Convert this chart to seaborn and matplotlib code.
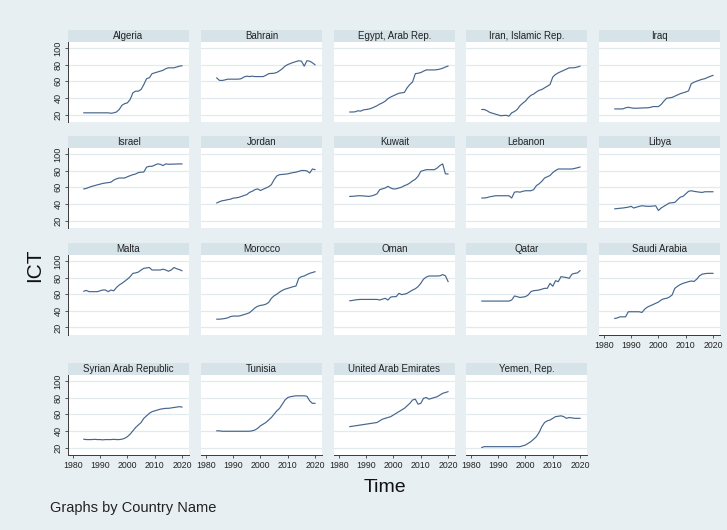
import numpy as np
import pandas as pd
import matplotlib
matplotlib.use("Agg")
import matplotlib.pyplot as plt
import seaborn as sns

# ---- data -----------------------------------------------------------------
years = list(range(1984, 2021))

countries = [
    "Algeria", "Bahrain", "Egypt, Arab Rep.", "Iran, Islamic Rep.", "Iraq",
    "Israel", "Jordan", "Kuwait", "Lebanon", "Libya",
    "Malta", "Morocco", "Oman", "Qatar", "Saudi Arabia",
    "Syrian Arab Republic", "Tunisia", "United Arab Emirates", "Yemen, Rep.",
]

algeria = [22, 22, 22, 22, 22, 22, 22, 22, 22, 22, 21.5, 22, 23, 26, 31, 33, 34, 38,
           46, 48, 48, 50, 56, 63, 64, 69, 70, 71, 72, 73, 75, 76, 76, 76, 77, 78, 78.5]
bahrain = [64, 61, 60.8, 61.5, 62.4, 62.4, 62.4, 62.4, 62.4, 63, 65, 66, 65.5, 66, 65.5,
           65.5, 65.5, 65.5, 67, 69, 69.3, 69.5, 70.5, 72.5, 75, 78, 80, 81.2, 82.5, 83.5,
           84.5, 84, 78, 84.5, 84, 82, 79.5]
egypt = [23, 23, 23.2, 24.5, 24, 25.5, 26, 26.5, 27.5, 29, 30.5, 32.5, 34, 36, 39, 41,
         42.5, 44, 45.5, 46, 46.5, 52, 56, 59, 69, 69.5, 70.3, 72, 73.5, 73.5, 73.5, 73.5,
         73.8, 74.5, 75.5, 77, 78.2]
iran = [26, 26, 24.5, 22.5, 21.5, 20.5, 19.5, 18.5, 18.8, 19, 18, 22, 23.6, 26, 30.5,
        33.5, 36, 40, 43, 44.5, 47, 49, 50, 52, 54, 56, 65, 68, 70, 71.5, 73, 74.5, 76,
        76, 76.2, 77, 78]
iraq = [26.7, 26.7, 26.7, 26.7, 28, 28.7, 28, 27.5, 27.5, 27.7, 27.8, 28, 28, 28.5, 29.5,
        29.5, 29.5, 32, 36, 39.5, 40, 40.5, 42, 43.5, 45, 46, 47, 48.3, 57, 58.7, 60, 61.2,
        62.3, 63, 64.5, 65.8, 67]
israel = [57.8, 58.5, 59.8, 61, 61.8, 62.8, 63.6, 64.5, 65, 65.5, 66, 68.5, 70, 71, 71, 71,
          72.5, 73.8, 75, 75.8, 77.5, 78, 78.2, 84, 85, 85, 86.5, 87.9, 87.5, 85.9, 87.9,
          87.5, 87.6, 87.7, 87.8, 87.9, 87.9]
jordan = [41, 42.5, 43.7, 44.2, 45, 45.5, 46.8, 47.2, 47.7, 48.8, 50, 51, 53.7, 55, 57, 58,
          56, 57.5, 59, 60.5, 63, 69, 73.5, 75, 75.3, 75.6, 76, 76.8, 77.5, 78, 79, 80, 80,
          79.5, 77, 81.8, 81]
kuwait = [48.9, 49, 49.3, 49.7, 49.7, 49.5, 49.2, 48.9, 49.5, 50.5, 52, 57, 58, 59, 61, 59,
          57.8, 58, 59, 60, 61.8, 63, 65, 67.5, 69.5, 73, 79, 80, 81, 81, 81, 81, 83, 86,
          87.9, 76, 75.8]
lebanon = [47, 47, 47.5, 48.5, 49, 49.7, 49.7, 49.7, 49.7, 49.7, 49.7, 47, 54, 54.5, 54, 55,
           55.7, 55.7, 55.7, 57, 61.8, 64, 67, 71, 72.5, 74, 77.5, 80, 81.8, 81.8, 81.8,
           81.8, 81.8, 81.8, 82.5, 83.3, 84.2]
libya = [34, 34.3, 34.7, 35, 35.5, 36, 37, 35, 36, 37, 37.7, 37.3, 37, 37, 37.3, 37.7, 32,
         35, 37, 39, 41, 41.3, 41.7, 45, 48, 49, 52, 55, 55.7, 55, 54.5, 54, 53.7, 54.5,
         54.5, 54.5, 54.5]
malta = [63.5, 64.5, 63, 63, 63, 63, 64, 65, 65, 63, 65, 64, 68, 71, 73, 75.5, 78, 81, 85,
         85.5, 86.5, 89, 91, 91.5, 92, 89, 89, 89, 89, 90, 89, 87.5, 89, 92, 90.5, 89.5, 88]
morocco = [30, 30, 30.3, 30.8, 31.5, 33, 33.7, 33.7, 33.7, 34.5, 35.5, 36.5, 37.7, 40.5,
           43.5, 45.5, 46.5, 47, 48, 50, 55, 58, 60, 62.5, 64.5, 66, 67, 68, 69, 69.8, 79,
           81, 81.8, 83.5, 85, 86, 87]
oman = [52, 52.5, 53, 53.5, 53.7, 53.7, 53.7, 53.7, 53.7, 53.7, 53.7, 53, 54, 55, 53, 56.5,
        57, 57, 61, 59.5, 60, 61, 63, 65, 66.5, 69, 73, 78, 80.5, 81.8, 81.8, 81.8, 81.8,
        82, 83.5, 82, 75]
qatar = [51.7, 51.7, 51.7, 51.7, 51.7, 51.7, 51.7, 51.7, 51.7, 51.7, 51.7, 53, 57.8, 57,
         56, 56.5, 57, 59, 63, 64.2, 64.5, 65, 66, 67, 67, 73, 69.5, 76.2, 75, 81, 80.5, 80,
         79, 84, 85, 85.5, 88.3]
saudi = [30.8, 31.5, 32.8, 32.8, 32.8, 38.9, 38.9, 38.9, 38.9, 38.9, 38, 42, 44.5, 46, 47.5,
         49, 50.5, 53, 54.5, 55, 56.5, 59, 67, 69.5, 71.5, 73, 74, 75, 75.8, 75.2, 78, 82,
         84, 84.6, 85, 85, 85]
syria = [30, 29.5, 29.5, 29.5, 29.8, 29.5, 29.5, 29.2, 29.5, 29.5, 29.5, 29.8, 29.5, 29.5,
         30, 31, 33, 36, 40, 44, 47, 50, 55, 58, 61, 63, 64, 65, 66, 66.5, 67, 67, 67.5, 68,
         68.5, 69, 68.5]
tunisia = [40, 40, 39.5, 39.5, 39.5, 39.5, 39.5, 39.5, 39.5, 39.5, 39.5, 39.5, 39.5, 40, 41,
           43, 46, 48, 50, 53, 56, 60, 64, 67, 72, 77, 80, 81, 81.5, 82, 82, 82, 82, 81.5,
           76, 73, 73]
uae = [45, 45.5, 46, 46.5, 47, 47.5, 48, 48.5, 49, 49.5, 50, 52, 54, 55, 56, 57, 59, 61,
       63, 65, 67, 70, 73, 77, 78, 72, 73, 79, 80, 78, 79, 80, 81, 83, 85, 86, 87]
yemen = [20, 21, 21, 21, 21, 21, 21, 21, 21, 21, 21, 21, 21, 21, 21, 22, 23, 25, 27, 30, 33,
         38, 45, 50, 52, 53, 55, 57, 57.5, 58, 57, 55, 56, 55.5, 55, 55, 55]

ict_values = [algeria, bahrain, egypt, iran, iraq, israel, jordan, kuwait, lebanon, libya,
              malta, morocco, oman, qatar, saudi, syria, tunisia, uae, yemen]

y_ticks = [20, 40, 60, 80, 100]
x_ticks = [1980, 1990, 2000, 2010, 2020]

df = pd.DataFrame({
    "Country Name": np.repeat(countries, len(years)),
    "year": years * len(countries),
    "ICT": np.concatenate([np.asarray(v, dtype=float) for v in ict_values]),
})

# ---- style ----------------------------------------------------------------
sns.set_theme(style="white")
plt.rcParams["font.family"] = ["Liberation Sans", "DejaVu Sans"]

BG = "#e8eff2"
STRIP = "#d6e3e9"
GRID = "#e2eaee"
LINE = "#46658c"
AXC = "#3a3a3a"

W, H = 727, 530
fig = plt.figure(figsize=(W / 100, H / 100), dpi=100, facecolor=BG)


def rect(x, y, w, h):
    return [x / W, 1 - (y + h) / H, w / W, h / H]


col_x = [68, 201, 334, 466, 599]
row_top = [42, 148, 255, 375]
PW, PH, SH = 121, 80, 12

for i, name in enumerate(countries):
    r, c = divmod(i, 5)
    x0, y0 = col_x[c], row_top[r]
    ax = fig.add_axes(rect(x0, y0, PW, PH))
    ax.set_facecolor("white")
    sub = df[df["Country Name"] == name]
    sns.lineplot(data=sub, x="year", y="ICT", ax=ax, color=LINE, lw=0.85)
    ax.set_xlim(1978.3, 2022.5)
    ax.set_ylim(11, 107)
    ax.set_yticks(y_ticks)
    ax.set_xticks(x_ticks)
    ax.set_xlabel("")
    ax.set_ylabel("")
    ax.grid(axis="y", color=GRID, lw=0.9)
    ax.grid(axis="x", visible=False)
    ax.set_axisbelow(True)
    for s in ax.spines.values():
        s.set_visible(False)

    show_y = c == 0
    show_x = r == 3 or (r == 2 and c == 4)

    if show_y:
        ax.spines["left"].set_visible(True)
        ax.spines["left"].set_color(AXC)
        ax.spines["left"].set_linewidth(0.7)
        ax.tick_params(axis="y", length=2.5, width=0.6, color=AXC, pad=1.5,
                       labelsize=6.6, labelcolor="#222222", labelrotation=90, left=True)
        for t in ax.get_yticklabels():
            t.set_va("center")
    else:
        ax.tick_params(axis="y", left=False, labelleft=False)

    if show_x:
        ax.spines["bottom"].set_visible(True)
        ax.spines["bottom"].set_color(AXC)
        ax.spines["bottom"].set_linewidth(0.7)
        ax.tick_params(axis="x", length=2.5, width=0.6, color=AXC, pad=1.5,
                       labelsize=6.3, labelcolor="#222222", bottom=True)
    else:
        ax.tick_params(axis="x", bottom=False, labelbottom=False)

    st = fig.add_axes(rect(x0, y0 - SH, PW, SH))
    st.set_facecolor(STRIP)
    st.set_xticks([])
    st.set_yticks([])
    for s in st.spines.values():
        s.set_visible(False)
    st.text(0.5, 0.5, name, ha="center", va="center", fontsize=7, color="#222222",
            transform=st.transAxes)

fig.text(35 / W, 1 - 265 / H, "ICT", rotation=90, ha="center", va="center",
         fontsize=15, color="#111111")
fig.text(385 / W, 1 - 488 / H, "Time", ha="center", va="center",
         fontsize=14, color="#111111")
fig.text(50 / W, 1 - 508 / H, "Graphs by Country Name", ha="left", va="center",
         fontsize=10.5, color="#222222")

fig.savefig("out.png", dpi=100, facecolor=BG)
